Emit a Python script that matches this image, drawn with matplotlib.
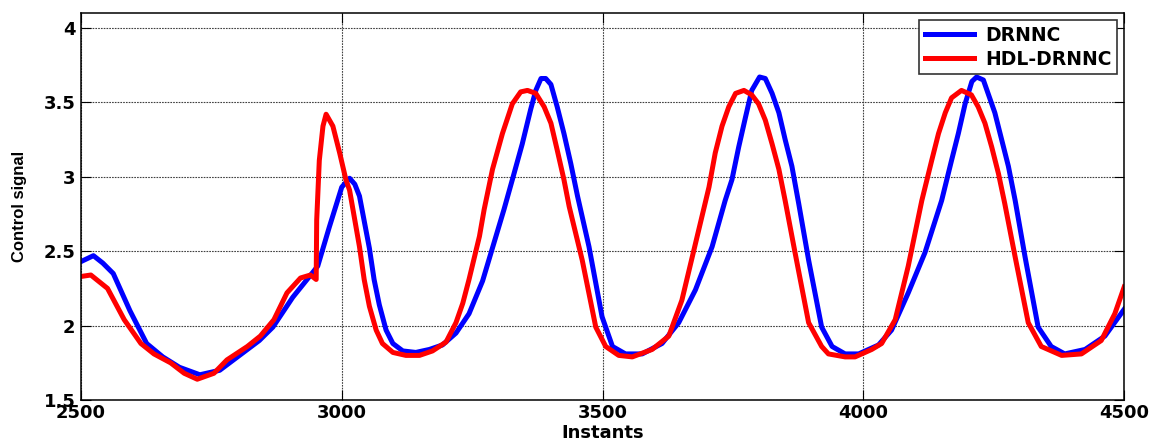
import matplotlib
matplotlib.use("Agg")
import matplotlib.pyplot as plt

# readings taken from the figure (instant, control signal)
drnnc_x = [2500, 2524, 2542, 2562, 2594, 2626, 2657, 2689, 2728, 2766, 2804, 2842,
           2868, 2906, 2945, 2954, 2976, 3000, 3015, 3025, 3034, 3053, 3062, 3072,
           3085, 3098, 3117, 3142, 3168, 3193, 3219, 3244, 3270, 3311, 3327, 3346,
           3362, 3372, 3382, 3391, 3401, 3413, 3426, 3439, 3452, 3474, 3499, 3519,
           3544, 3576, 3614, 3646, 3678, 3710, 3735, 3748, 3761, 3774, 3786, 3801,
           3812, 3825, 3838, 3850, 3863, 3876, 3895, 3920, 3940, 3965, 3991, 4029,
           4054, 4086, 4118, 4150, 4169, 4182, 4195, 4208, 4217, 4230, 4239, 4252,
           4265, 4278, 4291, 4310, 4335, 4360, 4386, 4425, 4463, 4500]
drnnc_y = [2.43, 2.47, 2.42, 2.35, 2.10, 1.88, 1.79, 1.72, 1.67, 1.70, 1.80, 1.90,
           1.99, 2.19, 2.36, 2.40, 2.66, 2.93, 2.99, 2.95, 2.87, 2.52, 2.31, 2.14,
           1.97, 1.88, 1.83, 1.82, 1.84, 1.87, 1.95, 2.08, 2.30, 2.78, 2.98, 3.22,
           3.45, 3.58, 3.66, 3.66, 3.62, 3.47, 3.29, 3.09, 2.87, 2.53, 2.06, 1.86,
           1.81, 1.81, 1.88, 2.02, 2.24, 2.53, 2.84, 2.98, 3.20, 3.40, 3.58, 3.67,
           3.66, 3.56, 3.43, 3.25, 3.07, 2.82, 2.44, 1.99, 1.86, 1.81, 1.81, 1.87,
           1.97, 2.22, 2.49, 2.84, 3.11, 3.29, 3.49, 3.64, 3.67, 3.65, 3.56, 3.43,
           3.25, 3.07, 2.84, 2.46, 1.99, 1.86, 1.81, 1.84, 1.93, 2.11]

hdl_x = [2500, 2519, 2551, 2583, 2615, 2640, 2672, 2698, 2723, 2755, 2780, 2819,
         2844, 2870, 2895, 2921, 2940, 2951, 2952, 2957, 2964, 2970, 2983, 2996,
         3008, 3015, 3034, 3043, 3053, 3066, 3078, 3098, 3123, 3149, 3174, 3200,
         3219, 3232, 3244, 3264, 3273, 3289, 3308, 3327, 3343, 3356, 3372, 3388,
         3401, 3413, 3426, 3436, 3461, 3487, 3506, 3531, 3557, 3595, 3627, 3652,
         3678, 3704, 3716, 3729, 3742, 3755, 3771, 3786, 3799, 3812, 3825, 3838,
         3850, 3869, 3895, 3920, 3933, 3965, 3984, 4016, 4035, 4061, 4086, 4112,
         4131, 4144, 4157, 4169, 4188, 4207, 4220, 4233, 4246, 4259, 4271, 4291,
         4316, 4341, 4380, 4418, 4456, 4482, 4500]
hdl_y = [2.33, 2.34, 2.25, 2.04, 1.88, 1.81, 1.75, 1.68, 1.64, 1.68, 1.77, 1.86,
         1.93, 2.04, 2.22, 2.32, 2.34, 2.31, 2.71, 3.11, 3.34, 3.42, 3.34, 3.16,
         2.98, 2.91, 2.53, 2.31, 2.13, 1.97, 1.88, 1.82, 1.80, 1.80, 1.83, 1.89,
         2.02, 2.15, 2.31, 2.60, 2.78, 3.05, 3.29, 3.49, 3.57, 3.58, 3.56, 3.47,
         3.36, 3.18, 2.98, 2.80, 2.44, 1.99, 1.86, 1.80, 1.79, 1.84, 1.93, 2.17,
         2.55, 2.93, 3.16, 3.34, 3.47, 3.56, 3.58, 3.55, 3.49, 3.38, 3.22, 3.05,
         2.84, 2.49, 2.02, 1.86, 1.81, 1.79, 1.79, 1.84, 1.88, 2.04, 2.40, 2.84,
         3.11, 3.29, 3.43, 3.53, 3.58, 3.55, 3.47, 3.36, 3.20, 3.02, 2.82, 2.46,
         2.02, 1.86, 1.80, 1.81, 1.90, 2.08, 2.26]

xticks = [2500, 3000, 3500, 4000, 4500]
yticks = [1.5, 2, 2.5, 3, 3.5, 4]
ytick_labels = ["1.5", "2", "2.5", "3", "3.5", "4"]

plt.rcParams['font.family'] = ['DejaVu Sans']
plt.rcParams['font.weight'] = 'bold'

fig = plt.figure(figsize=(11.56, 4.48), dpi=100)
ax = fig.add_axes([0.070, 0.107, 0.9025, 0.864])

ax.plot(drnnc_x, drnnc_y, color='#0000ff', lw=3.6, label='DRNNC',
        solid_joinstyle='round')
ax.plot(hdl_x, hdl_y, color='#ff0000', lw=3.6, label='HDL-DRNNC',
        solid_joinstyle='round')

ax.set_xlim(2500, 4500)
ax.set_ylim(1.5, 4.1)
ax.set_xticks(xticks)
ax.set_yticks(yticks)
ax.set_yticklabels(ytick_labels)
ax.grid(True, color='0.25', linestyle=(0, (1.5, 1)), lw=0.8)
ax.tick_params(direction='in', length=7, width=0.8, top=True, right=True,
               labelsize=13)
ax.tick_params(axis='x', pad=3)
ax.tick_params(axis='y', pad=4)
for s in ax.spines.values():
    s.set_linewidth(1.1)

ax.set_xlabel('Instants', fontsize=13, fontweight='bold', labelpad=1)
ax.set_ylabel('Control signal', fontsize=12, fontweight='bold',
              family='Liberation Sans', labelpad=12)

leg = ax.legend(loc='upper right', bbox_to_anchor=(0.993, 0.981), fontsize=13.5,
                fancybox=False, framealpha=1, edgecolor='0.2', handlelength=2.6,
                borderpad=0.3, labelspacing=0.25, handletextpad=0.6, borderaxespad=0)
leg.get_frame().set_linewidth(1.2)

fig.savefig('out.png', dpi=100)
